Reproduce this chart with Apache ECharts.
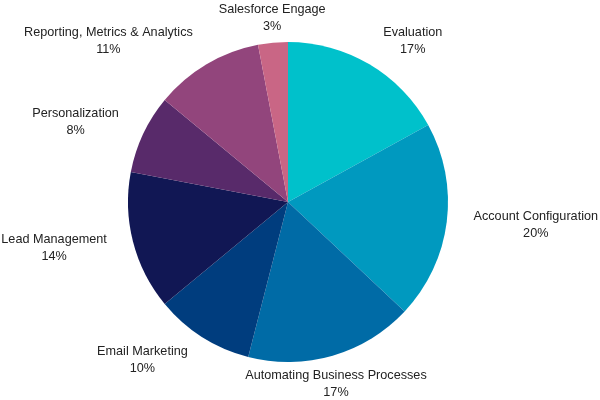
<!DOCTYPE html>
<html>
<head>
    <meta charset="utf-8">
    <title>Pie</title>
    <script src="https://cdn.jsdelivr.net/npm/echarts@6/dist/echarts.min.js"></script>
    <style>
        html, body { margin: 0; padding: 0; background: #fff; }
    </style>
</head>
<body>
<div id="main" style="width: 600px;height:400px;"></div>
<script type="text/javascript">
    // data
    var categories = ['Evaluation', 'Account Configuration', 'Automating Business Processes',
        'Email Marketing', 'Lead Management', 'Personalization',
        'Reporting, Metrics & Analytics', 'Salesforce Engage'];
    var values = [17, 20, 17, 10, 14, 8, 11, 3];
    var colors = ['#00c1cb', '#0099bf', '#006ba6', '#003d7e', '#111754', '#582a6a', '#92457c', '#c96685'];

    var cx = 288, cy = 202, r = 160;
    var total = values.reduce(function (a, b) { return a + b; }, 0);

    // mid angle of each slice (clockwise from top, radians)
    var midAngles = [];
    var acc = 0;
    values.forEach(function (v) {
        midAngles.push((acc + v / 2) / total * Math.PI * 2);
        acc += v;
    });

    var myChart = echarts.init(document.getElementById('main'));

    var option = {
        animation: false,
        color: colors,
        series: [{
            type: 'pie',
            center: [cx, cy],
            radius: r,
            startAngle: 90,
            clockwise: true,
            avoidLabelOverlap: false,
            itemStyle: { borderWidth: 0 },
            label: {
                show: true,
                position: 'outside',
                color: '#222',
                fontSize: 12.67,
                fontFamily: 'Liberation Sans, Arial, sans-serif',
                lineHeight: 17,
                formatter: function (p) {
                    return p.name + '\n' + Math.round(p.percent) + '%';
                }
            },
            labelLine: { show: false },
            // put each label box against the ray through the slice middle
            labelLayout: function (p) {
                var a = midAngles[p.dataIndex];
                var s = Math.sin(a), c = Math.cos(a);
                var w = p.labelRect.width, h = p.labelRect.height;
                if (Math.abs(c) > 0.92) {
                    var d = c > 0 ? 168 : 172;
                    var ax = cx + d * s, ay = cy - d * c;
                    return { x: ax, y: ay + (c > 0 ? -h / 2 : h / 2), align: 'center', verticalAlign: 'middle' };
                }
                var d2 = 187;
                var bx = cx + d2 * s, by = cy - d2 * c;
                return { x: bx + (s > 0 ? w / 2 : -w / 2), y: by, align: 'center', verticalAlign: 'middle' };
            },
            data: categories.map(function (c, i) {
                return { name: c, value: values[i] };
            })
        }]
    };

    myChart.setOption(option);
</script>
</body>
</html>
